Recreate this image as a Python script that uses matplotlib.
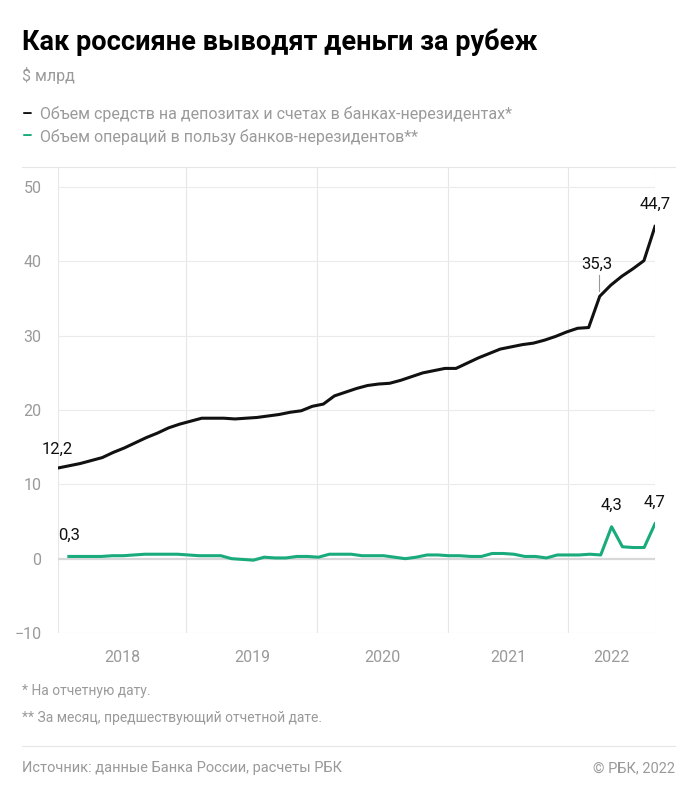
import numpy as np
import matplotlib.pyplot as plt
from matplotlib.lines import Line2D

plt.rcParams['font.family'] = ['Roboto', 'DejaVu Sans']

# === данные ===
deposits = [12.2, 12.5, 12.8, 13.2, 13.6, 14.3, 14.9, 15.6, 16.3, 16.9, 17.6, 18.1,
            18.5, 18.9, 18.9, 18.9, 18.8, 18.9, 19.0, 19.2, 19.4, 19.7, 19.9, 20.5,
            20.8, 21.9, 22.4, 22.9, 23.3, 23.5, 23.6, 24.0, 24.5, 25.0, 25.3, 25.6,
            25.6, 26.3, 27.0, 27.6, 28.2, 28.5, 28.8, 29.0, 29.4, 29.9, 30.5, 31.0,
            31.1, 35.3, 36.8, 38.0, 39.0, 40.1, 44.7]
operations = [0.3, 0.3, 0.3, 0.3, 0.4, 0.4, 0.5, 0.6, 0.6, 0.6, 0.6,
              0.5, 0.4, 0.4, 0.4, 0.0, -0.1, -0.2, 0.2, 0.1, 0.1, 0.3, 0.3,
              0.2, 0.6, 0.6, 0.6, 0.4, 0.4, 0.4, 0.2, 0.0, 0.2, 0.5, 0.5,
              0.4, 0.4, 0.3, 0.3, 0.7, 0.7, 0.6, 0.3, 0.3, 0.1, 0.5, 0.5,
              0.5, 0.6, 0.5, 4.3, 1.6, 1.5, 1.5, 4.7]
years = ['2018', '2019', '2020', '2021', '2022']
year_lines = [0, 11.8, 23.9, 35.9, 47.0, 55]
yticks = [-10, 0, 10, 20, 30, 40, 50]
ytick_labels = ['\u221210', '0', '10', '20', '30', '40', '50']

black = '#111111'
green = '#1aab7c'
gray = '#9a9a9a'

x_dep = np.arange(len(deposits)) * 55 / (len(deposits) - 1)
x_ops = np.arange(len(operations)) + 1

fig = plt.figure(figsize=(6.93, 8), dpi=100)
ax = fig.add_axes([58 / 693, 1 - 633 / 800, (655 - 58) / 693, (633 - 167) / 800])

ax.set_xlim(0, 55)
ax.set_ylim(-10, 52.7)
for v in year_lines:
    ax.axvline(v, color='#e6e6e6', lw=0.8, zorder=0)
for t in yticks:
    ax.axhline(t, color='#d8d8d8' if t == 0 else '#ebebeb', lw=1.6 if t == 0 else 0.8, zorder=0)

ax.plot(x_dep, deposits, color=black, lw=2.2, zorder=3)
ax.plot(x_ops, operations, color=green, lw=2.2, zorder=3)

# подписи
ax.text(x_dep[0] - 1.5, deposits[0] + 1.5, '12,2', fontsize=12, color=black, ha='left', va='bottom')
ax.text(x_dep[-1], deposits[-1] + 2.0, '44,7', fontsize=12, color=black, ha='center', va='bottom')
i35 = deposits.index(35.3)
ax.plot([x_dep[i35] - 0.1, x_dep[i35] - 0.1], [36.0, 38.2], color='#999999', lw=0.8)
ax.text(x_dep[i35] - 0.3, 38.6, '35,3', fontsize=12, color=black, ha='center', va='bottom')
ax.text(x_ops[0] - 1.0, operations[0] + 1.8, '0,3', fontsize=12, color=black, ha='left', va='bottom')
ax.text(x_ops[-5], operations[-5] + 1.9, '4,3', fontsize=12, color=black, ha='center', va='bottom')
ax.text(x_ops[-1], operations[-1] + 1.9, '4,7', fontsize=12, color=black, ha='center', va='bottom')

ax.set_yticks(yticks)
ax.set_yticklabels(ytick_labels, fontsize=11.5, color=gray)
centers = [(year_lines[i] + year_lines[i + 1]) / 2 for i in range(5)]
ax.set_xticks(centers)
ax.set_xticklabels(years, fontsize=11.5, color=gray)
ax.tick_params(length=0, pad=12)
for s in ax.spines.values():
    s.set_visible(False)

# заголовок и легенда
fig.text(22 / 693, 1 - 42 / 800, 'Как россияне выводят деньги за рубеж', fontsize=19.5,
         fontweight='bold', color='black', va='center')
fig.text(22 / 693, 1 - 76 / 800, '$ млрд', fontsize=11.5, color=gray, va='center')
fig.text(22 / 693, 1 - 114 / 800, '\u2013', fontsize=12, color=black, fontweight='bold', va='center')
fig.text(40 / 693, 1 - 114 / 800, 'Объем средств на депозитах и счетах в банках-нерезидентах*',
         fontsize=11.5, color=gray, va='center')
fig.text(22 / 693, 1 - 137 / 800, '\u2013', fontsize=12, color=green, fontweight='bold', va='center')
fig.text(40 / 693, 1 - 137 / 800, 'Объем операций в пользу банков-нерезидентов**',
         fontsize=11.5, color=gray, va='center')

fig.add_artist(Line2D([22 / 693, 675 / 693], [1 - 167 / 800] * 2, color='#e6e6e6', lw=0.8))
fig.add_artist(Line2D([22 / 693, 675 / 693], [1 - 746 / 800] * 2, color='#e6e6e6', lw=0.8))

fig.text(22 / 693, 1 - 691 / 800, '* На отчетную дату.', fontsize=10, color=gray, va='center')
fig.text(22 / 693, 1 - 718 / 800, '** За месяц, предшествующий отчетной дате.', fontsize=10,
         color=gray, va='center')
fig.text(22 / 693, 1 - 768 / 800, 'Источник: данные Банка России, расчеты РБК', fontsize=10.5,
         color=gray, va='center')
fig.text(675 / 693, 1 - 768 / 800, '© РБК, 2022', fontsize=10.5, color=gray, va='center', ha='right')

fig.savefig('out.png', dpi=100)
